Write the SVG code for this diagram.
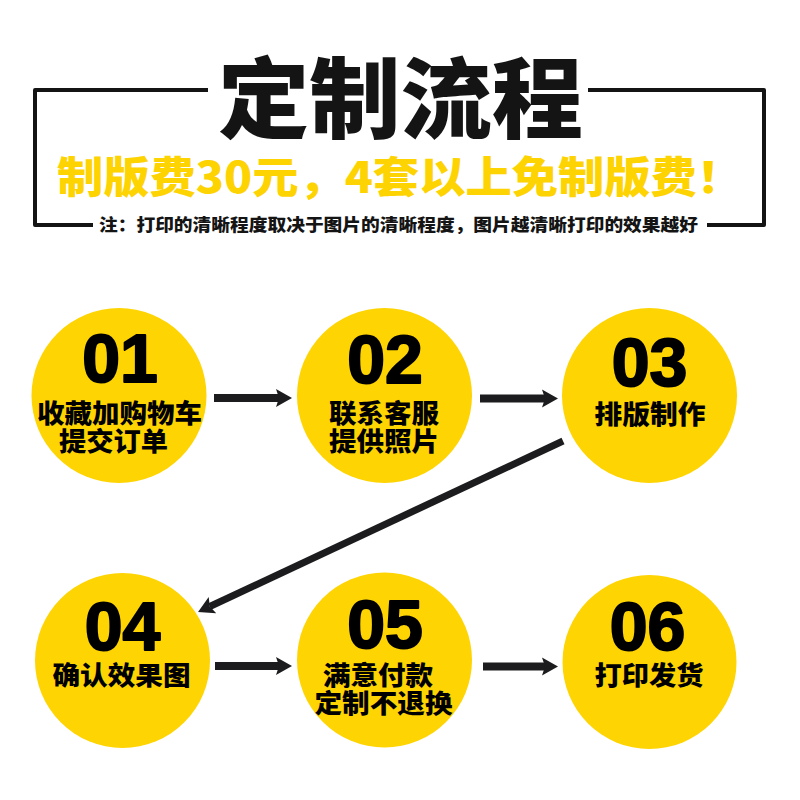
<svg xmlns="http://www.w3.org/2000/svg" width="800" height="800" viewBox="0 0 800 800">
<defs>
<style>
.frame{fill:none;stroke:#141414;stroke-width:4;stroke-linejoin:round}
.title{font-family:"Noto Sans CJK SC","Noto Sans",sans-serif;font-weight:900;fill:#141414}
.sub{font-family:"Noto Sans CJK SC","Noto Sans",sans-serif;font-weight:900;fill:#FED302}
.note{font-family:"Noto Sans CJK SC","Noto Sans",sans-serif;font-weight:900;fill:#141414}
.circle{fill:#FED402}
.num{font-family:"Liberation Sans",Arial,sans-serif;font-weight:bold;font-size:68px;fill:#000;stroke:#000;stroke-width:2;stroke-linejoin:round;text-anchor:middle}
.lbl{font-family:"Noto Sans CJK SC","Noto Sans",sans-serif;font-weight:900;font-size:26px;fill:#000;text-anchor:middle}
.conn{stroke:#1c1c1f;stroke-width:8;fill:none;marker-end:url(#ah)}
</style>
<marker id="ah" markerUnits="userSpaceOnUse" markerWidth="16" markerHeight="20" refX="3" refY="10" orient="auto" viewBox="0 0 16 20">
<path d="M0,1 L16,10 L0,19 L3,10 Z" fill="#1c1c1f"/>
</marker>
</defs>
<rect width="800" height="800" fill="#fff"/>
<g id="header">
<path class="frame" d="M208,90 H35 V225 H93"/>
<path class="frame" d="M588,90 H764 V225 H707"/>
<text class="title" x="218" y="131" font-size="88" textLength="365" lengthAdjust="spacingAndGlyphs">定制流程</text>
<text class="sub" x="57" y="193" font-size="43" textLength="686" lengthAdjust="spacingAndGlyphs">制版费30元，4套以上免制版费！</text>
<text class="note" x="99" y="231" font-size="17" textLength="599" lengthAdjust="spacingAndGlyphs">注：打印的清晰程度取决于图片的清晰程度，图片越清晰打印的效果越好</text>
</g>
<g id="step01">
<circle class="circle" cx="119" cy="395.5" r="87.5"/>
<text class="num" x="120" y="382">01</text>
<text class="lbl" x="119.5" y="423" textLength="165" lengthAdjust="spacingAndGlyphs">收藏加购物车</text>
<text class="lbl" x="113.5" y="451" textLength="109" lengthAdjust="spacingAndGlyphs">提交订单</text>
</g>
<g id="step02">
<circle class="circle" cx="384.5" cy="395.5" r="87.5"/>
<text class="num" x="385" y="383">02</text>
<text class="lbl" x="384" y="423" textLength="110" lengthAdjust="spacingAndGlyphs">联系客服</text>
<text class="lbl" x="384" y="451" textLength="110" lengthAdjust="spacingAndGlyphs">提供照片</text>
</g>
<g id="step03">
<circle class="circle" cx="649.5" cy="395.5" r="87.5"/>
<text class="num" x="649.5" y="386">03</text>
<text class="lbl" x="650" y="424" textLength="111" lengthAdjust="spacingAndGlyphs">排版制作</text>
</g>
<g id="step04">
<circle class="circle" cx="122.5" cy="660.5" r="87.5"/>
<text class="num" x="122.5" y="650">04</text>
<text class="lbl" x="121.5" y="685" textLength="138" lengthAdjust="spacingAndGlyphs">确认效果图</text>
</g>
<g id="step05">
<circle class="circle" cx="384.5" cy="660" r="87.5"/>
<text class="num" x="385" y="648">05</text>
<text class="lbl" x="378" y="685" textLength="110" lengthAdjust="spacingAndGlyphs">满意付款</text>
<text class="lbl" x="383.5" y="713" textLength="138" lengthAdjust="spacingAndGlyphs">定制不退换</text>
</g>
<g id="step06">
<circle class="circle" cx="649.5" cy="662" r="87"/>
<text class="num" x="647.5" y="650">06</text>
<text class="lbl" x="649" y="685" textLength="109" lengthAdjust="spacingAndGlyphs">打印发货</text>
</g>
<g id="connectors">
<line class="conn" x1="214" y1="398" x2="279" y2="398"/>
<line class="conn" x1="480" y1="398.5" x2="545" y2="398.5"/>
<line class="conn" x1="563" y1="441" x2="209.8" y2="606.5" style="stroke-width:7"/>
<line class="conn" x1="215" y1="666" x2="279" y2="666"/>
<line class="conn" x1="483" y1="666.5" x2="545" y2="666.5"/>
</g>
</svg>
